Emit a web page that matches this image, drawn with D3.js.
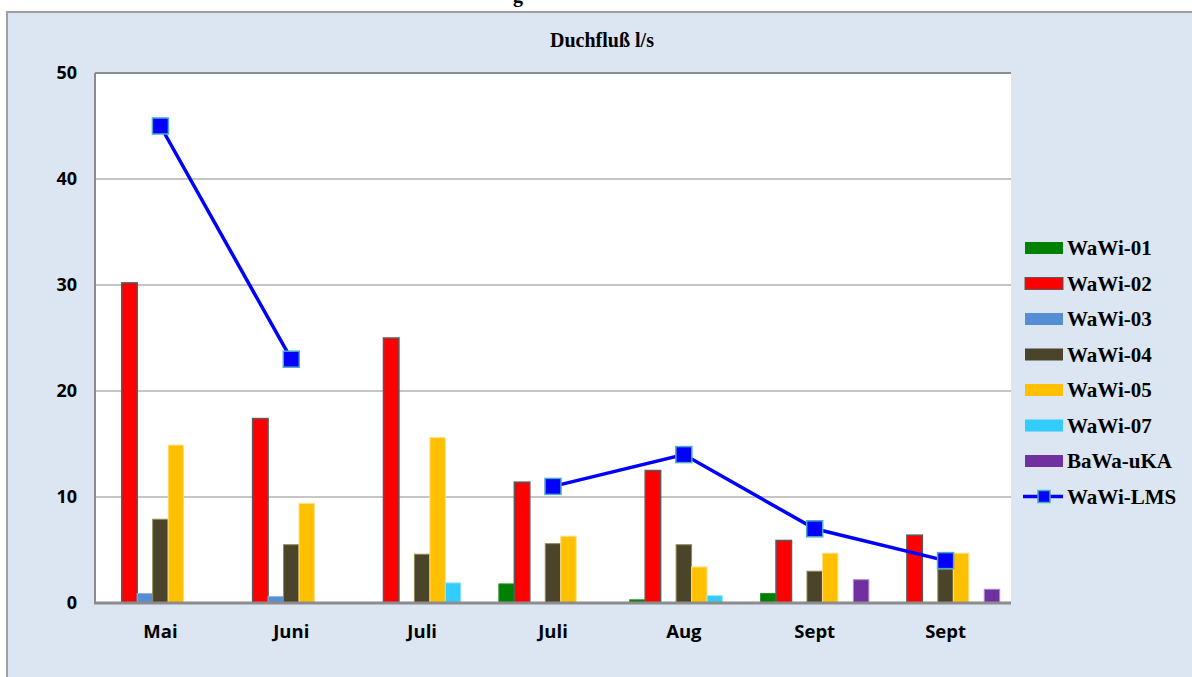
<!DOCTYPE html>
<html>
<head>
<meta charset="utf-8">
<script src="https://cdn.jsdelivr.net/npm/d3@7"></script>
<style>
  body { margin: 0; background: #fff; }
  svg { display: block; }
</style>
</head>
<body>
<div class="Canvas"></div>
<script>
const categories = ['Mai', 'Juni', 'Juli', 'Juli ', 'Aug', 'Sept', 'Sept '];
const categoryLabels = ['Mai', 'Juni', 'Juli', 'Juli', 'Aug', 'Sept', 'Sept'];
const seriesNames = ['WaWi-01', 'WaWi-02', 'WaWi-03', 'WaWi-04', 'WaWi-05', 'WaWi-07', 'BaWa-uKA'];
const wawi01 = [0, 0, 0, 1.8, 0.3, 0.9, 0];
const wawi02 = [30.2, 17.4, 25.0, 11.4, 12.5, 5.9, 6.4];
const wawi03 = [0.9, 0.6, 0, 0, 0, 0, 0];
const wawi04 = [7.9, 5.5, 4.6, 5.6, 5.5, 3.0, 3.2];
const wawi05 = [14.9, 9.4, 15.6, 6.3, 3.4, 4.7, 4.7];
const wawi07 = [0, 0, 1.9, 0, 0.7, 0, 0];
const bawaUka = [0, 0, 0, 0, 0, 2.2, 1.3];
const wawiLms = [45, 23, null, 11, 14, 7, 4];
const yTicks = [0, 10, 20, 30, 40, 50];

const barSeries = [wawi01, wawi02, wawi03, wawi04, wawi05, wawi07, bawaUka];
const fills = ['#008000', '#ff0000', '#558ed5', '#4a452a', '#ffc000', '#33ccff', '#7030a0'];
const strokes = ['#2e8b2e', '#5a5a5a', '#8db3e2', '#948a54', '#ffe08a', '#99e6ff', '#b18fcf'];

const W = 1192, H = 677;
const plot = { left: 95, top: 73, right: 1011, bottom: 603 };

const svg = d3.select('.Canvas').append('svg').attr('width', W).attr('height', H);

// outer frame
svg.append('rect').attr('x', 7).attr('y', 12).attr('width', W).attr('height', H)
  .attr('fill', '#dce6f2').attr('stroke', '#a0a0a0').attr('stroke-width', 2);

// clipped top title (only a descender is visible)
svg.append('text').attr('x', 513).attr('y', 2)
  .attr('font-family', 'Liberation Serif').attr('font-weight', 'bold').attr('font-size', '20px')
  .attr('fill', '#000').text('g');

svg.append('text').attr('x', 602).attr('y', 47).attr('text-anchor', 'middle')
  .attr('font-family', 'Liberation Serif').attr('font-weight', 'bold').attr('font-size', '20px')
  .text('Duchfluß l/s');

const x = d3.scaleBand().domain(categories).range([plot.left, plot.right]);
const y = d3.scaleLinear().domain([0, 50]).range([plot.bottom, plot.top]);
const xs = d3.scaleBand().domain(seriesNames).range([0, x.bandwidth()]).paddingOuter(0.73).paddingInner(0);

svg.append('rect').attr('x', plot.left).attr('y', plot.top)
  .attr('width', plot.right - plot.left).attr('height', plot.bottom - plot.top).attr('fill', '#fff');

// grid
svg.append('g').selectAll('line').data(yTicks.slice(1)).enter().append('line')
  .attr('x1', plot.left).attr('x2', plot.right)
  .attr('y1', (d) => y(d)).attr('y2', (d) => y(d))
  .attr('stroke', '#8c8c8c').attr('stroke-width', (d) => (d == 50 ? 2 : 1));

// bars
barSeries.forEach((vals, i) => {
  svg.append('g').selectAll('rect').data(vals).enter().append('rect')
    .attr('x', (d, j) => x(categories[j]) + xs(seriesNames[i]))
    .attr('y', (d) => y(d))
    .attr('width', xs.bandwidth())
    .attr('height', (d) => y(0) - y(d))
    .attr('fill', fills[i])
    .attr('stroke', (d) => (d > 0 ? strokes[i] : 'none'))
    .attr('stroke-width', i == 1 ? 1.5 : 1);
});

// axes lines
svg.append('line').attr('x1', plot.left).attr('x2', plot.left).attr('y1', plot.top).attr('y2', plot.bottom)
  .attr('stroke', '#8c8c8c').attr('stroke-width', 2);
svg.append('line').attr('x1', plot.left - 1).attr('x2', plot.right).attr('y1', plot.bottom).attr('y2', plot.bottom)
  .attr('stroke', '#8c8c8c').attr('stroke-width', 3);

// LMS line
const lmsPts = wawiLms.map((v, j) => ({ v: v, c: categories[j] }));
const line = d3.line().defined((d) => d.v != null)
  .x((d) => x(d.c) + x.bandwidth() / 2).y((d) => y(d.v));
svg.append('path').datum(lmsPts).attr('d', line)
  .attr('fill', 'none').attr('stroke', '#0000ff').attr('stroke-width', 3.5);
svg.append('g').selectAll('rect').data(lmsPts.filter((d) => d.v != null)).enter().append('rect')
  .attr('x', (d) => x(d.c) + x.bandwidth() / 2 - 8)
  .attr('y', (d) => y(d.v) - 8)
  .attr('width', 16).attr('height', 16)
  .attr('fill', '#0000ff').attr('stroke', '#4bacc6').attr('stroke-width', 1.5);

// axis labels
const tickFont = 'Open Sans';
svg.append('g').selectAll('text').data(yTicks).enter().append('text')
  .attr('x', 77).attr('y', (d) => y(d) + 6).attr('text-anchor', 'end')
  .attr('font-family', tickFont).attr('font-weight', 'bold').attr('font-size', '18px')
  .text((d) => d);
svg.append('g').selectAll('text').data(categories).enter().append('text')
  .attr('x', (d) => x(d) + x.bandwidth() / 2).attr('y', 638).attr('text-anchor', 'middle')
  .attr('font-family', tickFont).attr('font-weight', 'bold').attr('font-size', '18.5px')
  .text((d, j) => categoryLabels[j]);

// legend
const legendNames = seriesNames.concat(['WaWi-LMS']);
const lg = svg.append('g').selectAll('g').data(legendNames).enter().append('g')
  .attr('transform', (d, i) => `translate(1025, ${248 + i * 35.5})`);
lg.each(function (d, i) {
  const g = d3.select(this);
  if (i < 7) {
    g.append('rect').attr('x', 0).attr('y', -6).attr('width', 38).attr('height', 12)
      .attr('fill', fills[i]).attr('stroke', i == 1 ? '#5a5a5a' : 'none').attr('stroke-width', 1);
  } else {
    g.append('line').attr('x1', -2).attr('x2', 38).attr('y1', 0).attr('y2', 0)
      .attr('stroke', '#0000ff').attr('stroke-width', 3.5);
    g.append('rect').attr('x', 13).attr('y', -6).attr('width', 12).attr('height', 12)
      .attr('fill', '#0000ff').attr('stroke', '#4bacc6').attr('stroke-width', 1.5);
  }
  g.append('text').attr('x', 42).attr('y', 7)
    .attr('font-family', 'Liberation Serif').attr('font-weight', 'bold').attr('font-size', '21px')
    .text(d);
});
</script>
</body>
</html>
